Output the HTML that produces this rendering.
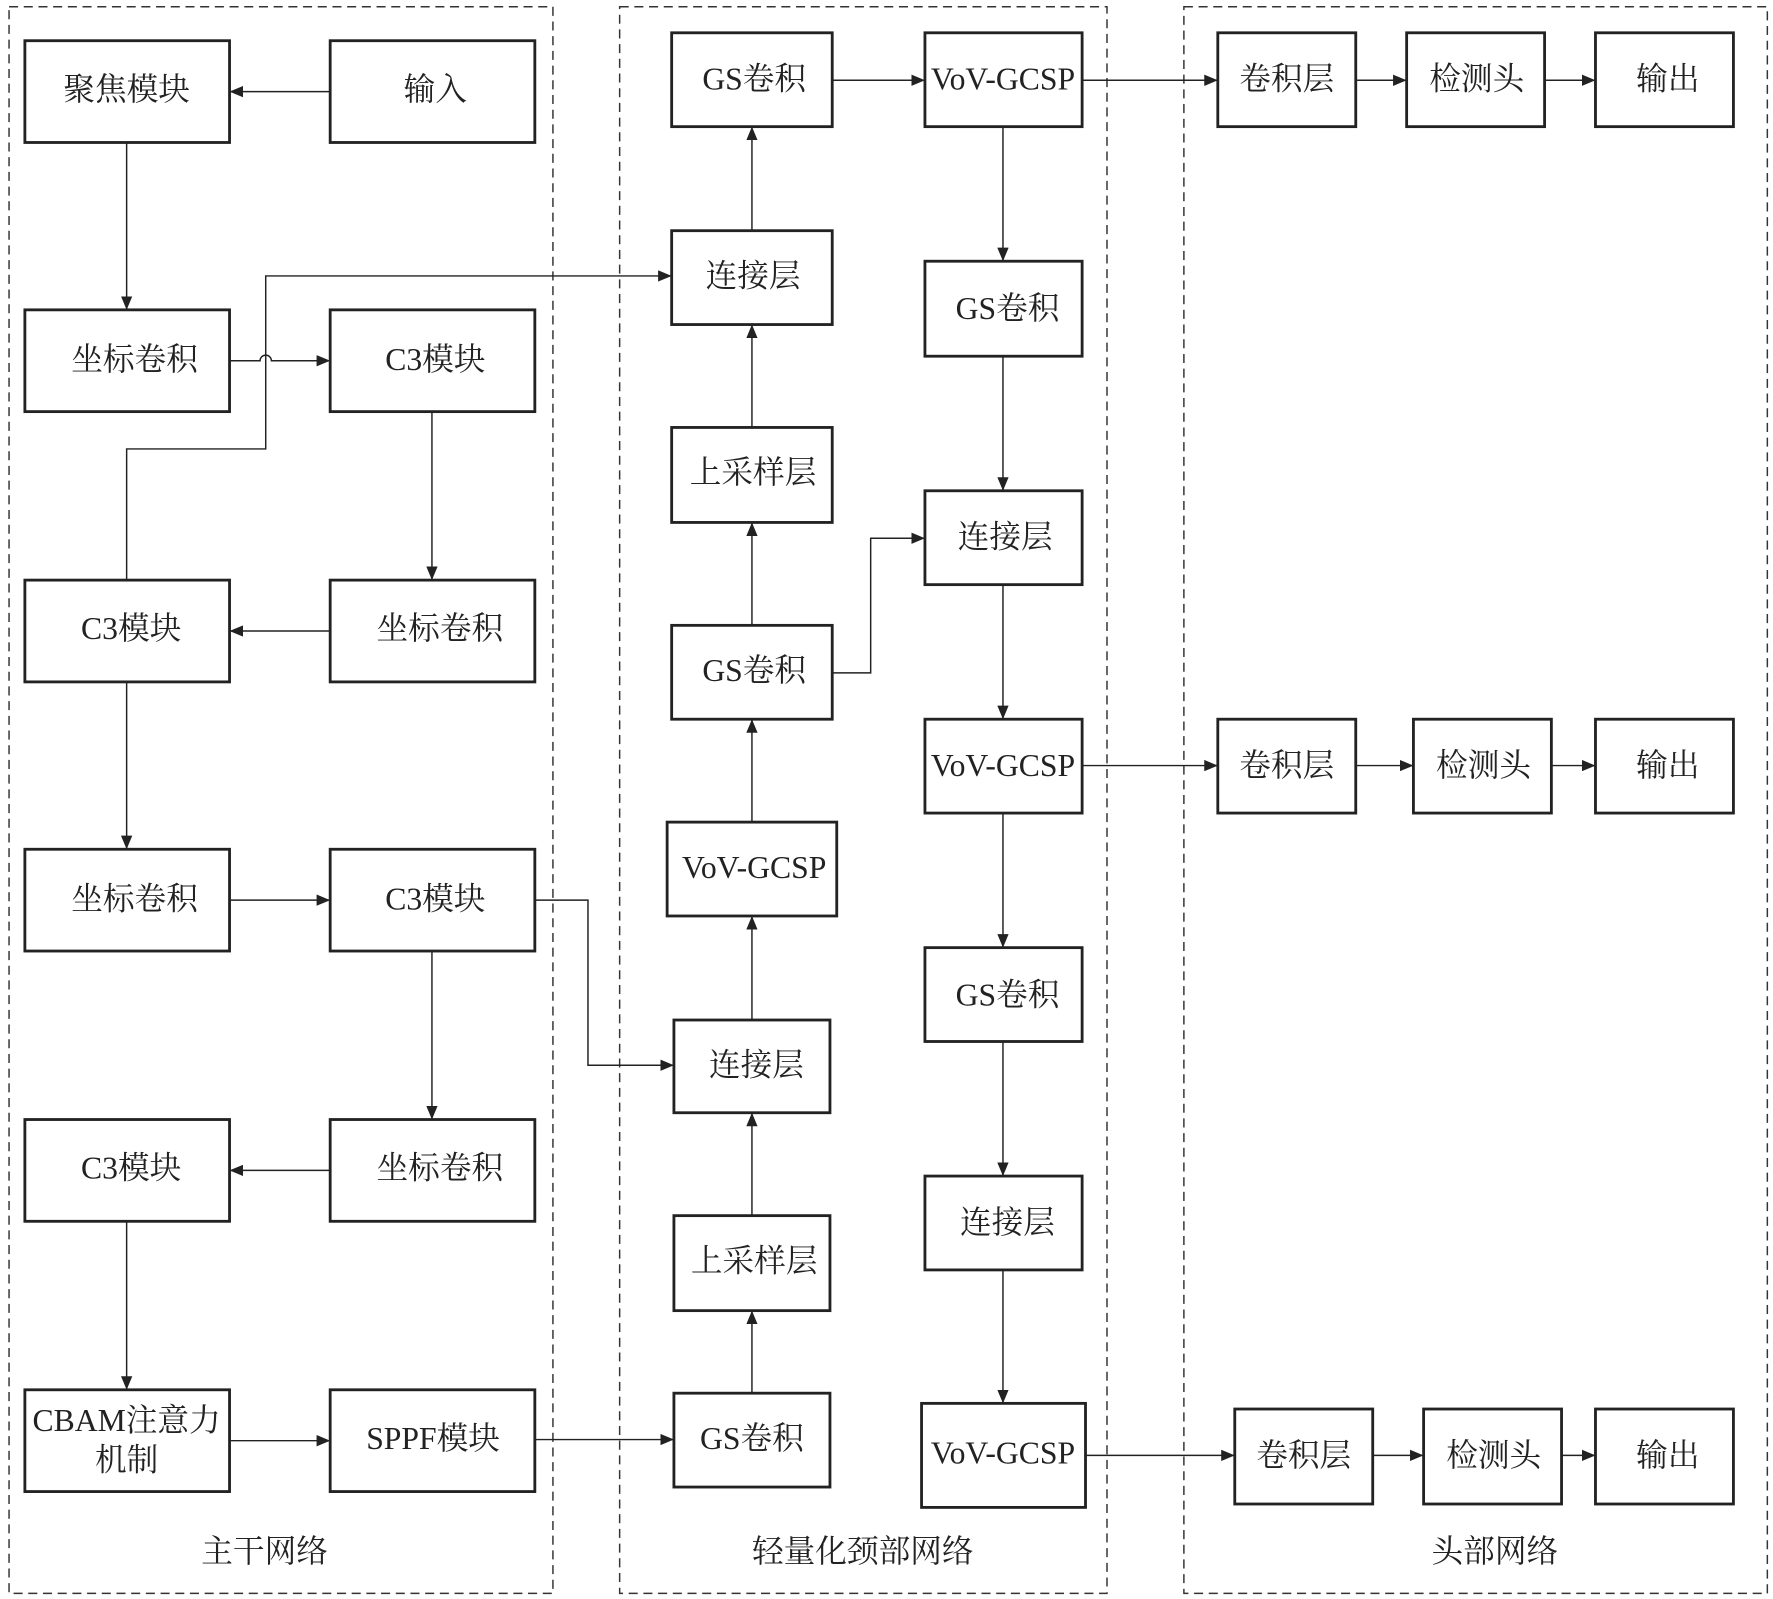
<!DOCTYPE html>
<html><head><meta charset="utf-8"><style>html,body{margin:0;padding:0;background:#fff}svg{display:block}</style></head><body>
<svg width="1773" height="1599" viewBox="0 0 1568 1414" preserveAspectRatio="none" xmlns="http://www.w3.org/2000/svg">
<defs><marker id="a" markerWidth="12" markerHeight="10" refX="12" refY="5" orient="auto" markerUnits="userSpaceOnUse"><path d="M0,0 L12,5 L0,10 Z" fill="#222"/></marker></defs>
<g fill="none" stroke="#333" stroke-width="1.3" stroke-dasharray="8,5">
<rect x="8" y="6" width="481" height="1403"/><rect x="548" y="6" width="431" height="1403"/><rect x="1047" y="6" width="516" height="1403"/>
</g>
<g fill="#fff" stroke="#222" stroke-width="2.5">
<rect x="22" y="36" width="181" height="90"/><rect x="292" y="36" width="181" height="90"/>
<rect x="22" y="274" width="181" height="90"/><rect x="292" y="274" width="181" height="90"/>
<rect x="22" y="513" width="181" height="90"/><rect x="292" y="513" width="181" height="90"/>
<rect x="22" y="751" width="181" height="90"/><rect x="292" y="751" width="181" height="90"/>
<rect x="22" y="990" width="181" height="90"/><rect x="292" y="990" width="181" height="90"/>
<rect x="22" y="1229" width="181" height="90"/><rect x="292" y="1229" width="181" height="90"/>
<rect x="594" y="29" width="142" height="83"/><rect x="594" y="204" width="142" height="83"/>
<rect x="594" y="378" width="142" height="84"/><rect x="594" y="553" width="142" height="83"/>
<rect x="590" y="727" width="150" height="83"/><rect x="596" y="902" width="138" height="82"/>
<rect x="596" y="1075" width="138" height="84"/><rect x="596" y="1232" width="138" height="83"/>
<rect x="818" y="29" width="139" height="83"/><rect x="818" y="231" width="139" height="84"/>
<rect x="818" y="434" width="139" height="83"/><rect x="818" y="636" width="139" height="83"/>
<rect x="818" y="838" width="139" height="83"/><rect x="818" y="1040" width="139" height="83"/>
<rect x="815" y="1241" width="145" height="92"/>
<rect x="1077" y="29" width="122" height="83"/><rect x="1244" y="29" width="122" height="83"/><rect x="1411" y="29" width="122" height="83"/>
<rect x="1077" y="636" width="122" height="83"/><rect x="1250" y="636" width="122" height="83"/><rect x="1411" y="636" width="122" height="83"/>
<rect x="1092" y="1246" width="122" height="84"/><rect x="1259" y="1246" width="122" height="84"/><rect x="1411" y="1246" width="122" height="84"/>
</g>
<g fill="none" stroke="#222" stroke-width="1.3" marker-end="url(#a)">
<path d="M292,81 H203"/><path d="M112,126 V274"/><path d="M203,319 H230 a5,5 0 0 1 10,0 H292"/>
<path d="M382,364 V513"/><path d="M292,558 H203"/><path d="M112,603 V751"/><path d="M203,796 H292"/>
<path d="M382,841 V990"/><path d="M292,1035 H203"/><path d="M112,1080 V1229"/><path d="M203,1274 H292"/>
<path d="M112,513 V397 H235 V244 H594"/>
<path d="M473,1273 H596"/><path d="M473,796 H520 V942 H596"/>
<path d="M665,1232 V1159"/><path d="M665,1075 V984"/><path d="M665,902 V810"/><path d="M665,727 V636"/>
<path d="M665,553 V462"/><path d="M665,378 V287"/><path d="M665,204 V112"/>
<path d="M736,71 H818"/><path d="M736,595 H770 V476 H818"/>
<path d="M887,112 V231"/><path d="M887,315 V434"/><path d="M887,517 V636"/><path d="M887,719 V838"/>
<path d="M887,921 V1040"/><path d="M887,1123 V1241"/>
<path d="M957,71 H1077"/><path d="M1199,71 H1244"/><path d="M1366,71 H1411"/>
<path d="M957,677 H1077"/><path d="M1199,677 H1250"/><path d="M1372,677 H1411"/>
<path d="M960,1287 H1092"/><path d="M1214,1287 H1259"/><path d="M1381,1287 H1411"/>
</g>
<g font-family="'Liberation Serif','Noto Serif CJK SC',serif" font-size="28" fill="#222" text-anchor="middle" dominant-baseline="central">
<text x="112" y="79">聚焦模块</text><text x="385" y="79">输入</text>
<text x="119" y="318">坐标卷积</text><text x="385" y="318">C3模块</text>
<text x="116" y="556">C3模块</text><text x="389" y="556">坐标卷积</text>
<text x="119" y="795">坐标卷积</text><text x="385" y="795">C3模块</text>
<text x="116" y="1033">C3模块</text><text x="389" y="1033">坐标卷积</text>
<text x="112" y="1256">CBAM注意力</text><text x="112" y="1291">机制</text><text x="383" y="1272">SPPF模块</text>
<text x="667" y="70">GS卷积</text><text x="666" y="244">连接层</text><text x="666" y="418">上采样层</text>
<text x="667" y="593">GS卷积</text><text x="667" y="767">VoV-GCSP</text><text x="669" y="942">连接层</text>
<text x="667" y="1115">上采样层</text><text x="665" y="1272">GS卷积</text>
<text x="887" y="70">VoV-GCSP</text><text x="891" y="273">GS卷积</text><text x="889" y="475">连接层</text>
<text x="887" y="677">VoV-GCSP</text><text x="891" y="880">GS卷积</text><text x="891" y="1081">连接层</text>
<text x="887" y="1285">VoV-GCSP</text>
<text x="1138" y="70">卷积层</text><text x="1306" y="70">检测头</text><text x="1475" y="70">输出</text>
<text x="1138" y="677">卷积层</text><text x="1312" y="677">检测头</text><text x="1475" y="677">输出</text>
<text x="1153" y="1287">卷积层</text><text x="1321" y="1287">检测头</text><text x="1475" y="1287">输出</text>
<text x="234" y="1372">主干网络</text><text x="763" y="1372">轻量化颈部网络</text><text x="1322" y="1372">头部网络</text>
</g>
</svg>
</body></html>
